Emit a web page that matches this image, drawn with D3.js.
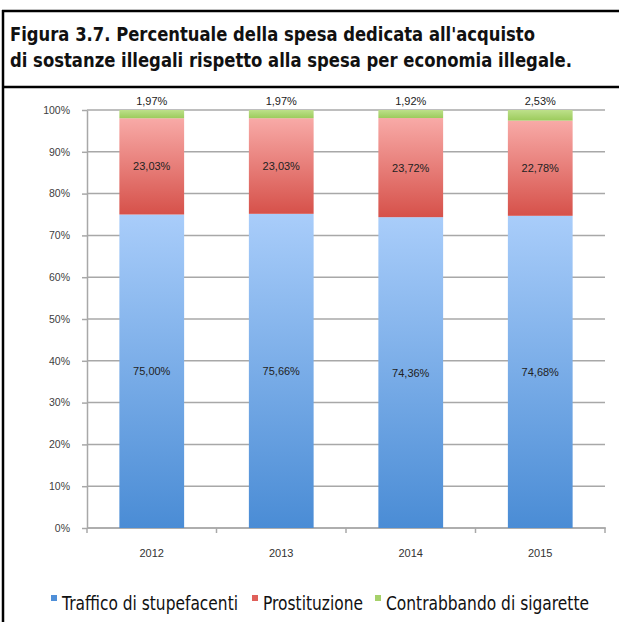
<!DOCTYPE html>
<html lang="it">
	<head>
		<meta charset="utf-8">
		<title>Figura 3.7</title>
		<script type="text/javascript" src="https://d3js.org/d3.v7.min.js"></script>
		<style type="text/css">
			body { margin: 0; background: #fff; }
			svg { display: block; }
		</style>
	</head>
	<body>
		<script type="text/javascript">

			//Width and height
			var w = 619;
			var h = 622;

			//Data
			var years = ["2012", "2013", "2014", "2015"];
			var traffico = [75.00, 75.66, 74.36, 74.68];
			var prostituzione = [23.03, 23.03, 23.72, 22.78];
			var contrabbando = [1.97, 1.97, 1.92, 2.53];
			var seriesNames = ["Traffico di stupefacenti", "Prostituzione", "Contrabbando di sigarette"];
			var yTicks = [0, 0.1, 0.2, 0.3, 0.4, 0.5, 0.6, 0.7, 0.8, 0.9, 1];
			var titleLines = ["Figura 3.7. Percentuale della spesa dedicata all'acquisto",
			                  "di sostanze illegali rispetto alla spesa per economia illegale."];

			//colours: top and bottom of each gradient
			var colors = [
				{ top: "#a9cdfa", bottom: "#4a8cd5", key: "#4f8fd8" },
				{ top: "#f8aaa7", bottom: "#d6514a", key: "#e0605a" },
				{ top: "#bde08a", bottom: "#9ccb5c", key: "#a6d16a" }
			];

			var rows = years.map(function(y, i) {
				return { year: y, s0: traffico[i], s1: prostituzione[i], s2: contrabbando[i] };
			});

			//100% stacked, like the original
			var stack = d3.stack()
				.keys(["s0", "s1", "s2"])
				.offset(d3.stackOffsetExpand);
			var layers = stack(rows);

			var svg = d3.select("body")
				.append("svg")
				.attr("width", w)
				.attr("height", h);

			var defs = svg.append("defs");
			colors.forEach(function(c, i) {
				var g = defs.append("linearGradient")
					.attr("id", "grad" + i)
					.attr("x1", 0).attr("y1", 0).attr("x2", 0).attr("y2", 1);
				g.append("stop").attr("offset", "0%").attr("stop-color", c.top);
				g.append("stop").attr("offset", "100%").attr("stop-color", c.bottom);
			});

			//frame and title
			var frame = svg.append("g").attr("fill", "none").attr("stroke", "#000").attr("stroke-width", 2.5);
			frame.append("line").attr("x1", 2).attr("x2", w).attr("y1", 11).attr("y2", 11);
			frame.append("line").attr("x1", 3).attr("x2", 3).attr("y1", 10).attr("y2", h);
			frame.append("line").attr("x1", 2).attr("x2", w).attr("y1", 87).attr("y2", 87);

			var titleWidths = [525, 562]; //squeeze to the condensed look of the original
			svg.selectAll("text.title")
				.data(titleLines)
				.enter()
				.append("text")
				.attr("class", "title")
				.attr("x", 10)
				.attr("y", function(d, i) { return 41 + i * 26; })
				.attr("textLength", function(d, i) { return titleWidths[i]; })
				.attr("lengthAdjust", "spacingAndGlyphs")
				.attr("font-family", "'DejaVu Sans', sans-serif")
				.attr("font-weight", "bold")
				.attr("font-size", 20)
				.attr("fill", "#111")
				.text(function(d) { return d; });

			//scales
			var x = d3.scaleBand()
				.domain(years)
				.range([87, 605])
				.paddingInner(0.5)
				.paddingOuter(0.25);

			var y = d3.scaleLinear()
				.domain([0, 1])
				.range([528, 110]);

			//gridlines
			svg.append("g")
				.selectAll("line")
				.data(yTicks)
				.enter()
				.append("line")
				.attr("x1", 87)
				.attr("x2", 605)
				.attr("y1", function(d) { return y(d); })
				.attr("y2", function(d) { return y(d); })
				.attr("stroke", "#a8a8a8")
				.attr("stroke-width", 1.5);

			//y axis
			var yAxis = d3.axisLeft(y)
				.tickValues(yTicks)
				.tickFormat(d3.format(".0%"))
				.tickSizeInner(5)
				.tickSizeOuter(0)
				.tickPadding(12);

			var yg = svg.append("g")
				.attr("transform", "translate(87,0)")
				.call(yAxis);
			yg.select(".domain").attr("stroke", "#a8a8a8").attr("stroke-width", 1.5);
			yg.selectAll(".tick line").attr("stroke", "#a8a8a8").attr("stroke-width", 1.5);
			yg.selectAll("text")
				.attr("font-family", "'Liberation Sans', sans-serif")
				.attr("font-size", 10.5)
				.attr("fill", "#404040");

			//x axis
			var xg = svg.append("g");
			xg.append("line")
				.attr("x1", 87).attr("x2", 606)
				.attr("y1", y(0)).attr("y2", y(0))
				.attr("stroke", "#a8a8a8").attr("stroke-width", 1.5);
			var edges = years.map(function(d) { return x(d) - x.step() * x.paddingInner() / 2; });
			edges.push(x(years[years.length - 1]) + x.bandwidth() + x.step() * x.paddingInner() / 2);
			xg.selectAll("line.tick")
				.data(edges)
				.enter()
				.append("line")
				.attr("class", "tick")
				.attr("x1", function(d) { return d; })
				.attr("x2", function(d) { return d; })
				.attr("y1", y(0))
				.attr("y2", y(0) + 5)
				.attr("stroke", "#a8a8a8").attr("stroke-width", 1.5);
			xg.selectAll("text")
				.data(years)
				.enter()
				.append("text")
				.attr("x", function(d) { return x(d) + x.bandwidth() / 2; })
				.attr("y", 557)
				.attr("text-anchor", "middle")
				.attr("font-family", "'Liberation Sans', sans-serif")
				.attr("font-size", 11)
				.attr("fill", "#333")
				.text(function(d) { return d; });

			//bars
			var fmt = function(v) { return d3.format(".2f")(v).replace(".", ",") + "%"; };
			var series = [traffico, prostituzione, contrabbando];

			layers.forEach(function(layer, li) {
				var g = svg.append("g");
				g.selectAll("rect")
					.data(layer)
					.enter()
					.append("rect")
					.attr("x", function(d) { return x(d.data.year); })
					.attr("width", x.bandwidth())
					.attr("y", function(d) { return y(d[1]); })
					.attr("height", function(d) { return y(d[0]) - y(d[1]); })
					.attr("fill", "url(#grad" + li + ")");

				//the thin green label sits above its bar
				g.selectAll("text")
					.data(layer)
					.enter()
					.append("text")
					.attr("x", function(d) { return x(d.data.year) + x.bandwidth() / 2; })
					.attr("y", function(d) {
						if (li === 2) return y(d[1]) - 5;
						return y((d[0] + d[1]) / 2) + 4;
					})
					.attr("text-anchor", "middle")
					.attr("font-family", "'Liberation Sans', sans-serif")
					.attr("font-size", 11)
					.attr("fill", "#222")
					.text(function(d, i) { return fmt(series[li][i]); });
			});

			//legend
			var legendX = [51, 252, 375];
			var legendW = [176, 100, 203];
			var leg = svg.append("g");
			seriesNames.forEach(function(name, i) {
				leg.append("rect")
					.attr("x", legendX[i])
					.attr("y", 595)
					.attr("width", 6)
					.attr("height", 6)
					.attr("fill", colors[i].key);
				leg.append("text")
					.attr("x", legendX[i] + 11)
					.attr("y", 610)
					.attr("textLength", legendW[i])
					.attr("lengthAdjust", "spacingAndGlyphs")
					.attr("font-family", "'DejaVu Sans', sans-serif")
					.attr("font-size", 19)
					.attr("fill", "#111")
					.text(name);
			});

		</script>
	</body>
</html>
